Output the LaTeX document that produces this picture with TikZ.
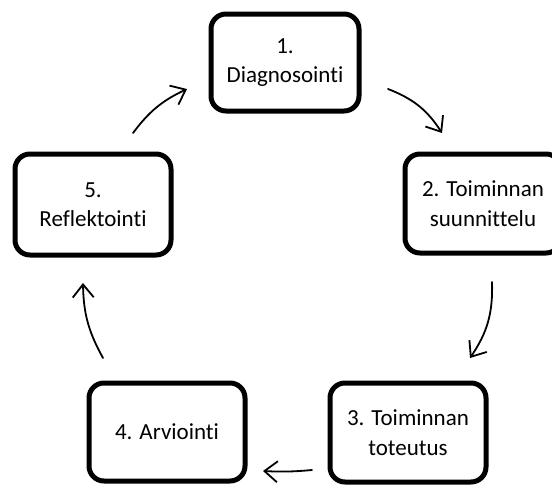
\documentclass[tikz,border=0pt]{standalone}
\usepackage{fontspec}
\setmainfont[Ligatures=NoCommon]{Carlito}
\usetikzlibrary{arrows.meta}

\begin{document}
\begin{tikzpicture}[x=1pt,y=-1pt,
  stage/.style={draw=black, line width=5pt, rounded corners=15pt, fill=white,
    align=center, inner sep=0pt,
    font=\fontsize{23}{29.5}\selectfont},
  cyc/.style={line width=1.8pt, line cap=round,
    -{Straight Barb[length=13pt,width=21pt,line width=1.8pt]}}]
  \useasboundingbox (0,0) rectangle (552,485);

  % the five stages of the cycle
  \node[stage, minimum width=148pt, minimum height=97pt] (n1) at (285,62.5) {1.\\Diagnosointi};
  \node[stage, minimum width=156pt, minimum height=99pt] (n2) at (483,203.5) {2. Toiminnan\\suunnittelu};
  \node[stage, minimum width=156pt, minimum height=99pt] (n3) at (408,432.5) {3. Toiminnan\\toteutus};
  \node[stage, minimum width=156pt, minimum height=98pt] (n4) at (167,432) {4. Arviointi};
  \node[stage, minimum width=156pt, minimum height=101pt] (n5) at (93,204.5) {5.\\Reflektointi};

  % end points of the curved arrows between stages
  \coordinate (a1s) at (388,89);  \coordinate (a1e) at (442,133);
  \coordinate (a2s) at (492,282); \coordinate (a2e) at (470,358);
  \coordinate (a3s) at (312,470); \coordinate (a3e) at (263,471);
  \coordinate (a4s) at (103,358); \coordinate (a4e) at (83,283);
  \coordinate (a5s) at (133,133); \coordinate (a5e) at (187,89);

  \draw[cyc] (a1s) to[bend left=18] (a1e);
  \draw[cyc] (a2s) to[bend left=18] (a2e);
  \draw[cyc] (a3s) to[bend left=4] (a3e);
  \draw[cyc] (a4s) to[bend left=14] (a4e);
  \draw[cyc] (a5s) to[bend left=14] (a5e);
\end{tikzpicture}
\end{document}
